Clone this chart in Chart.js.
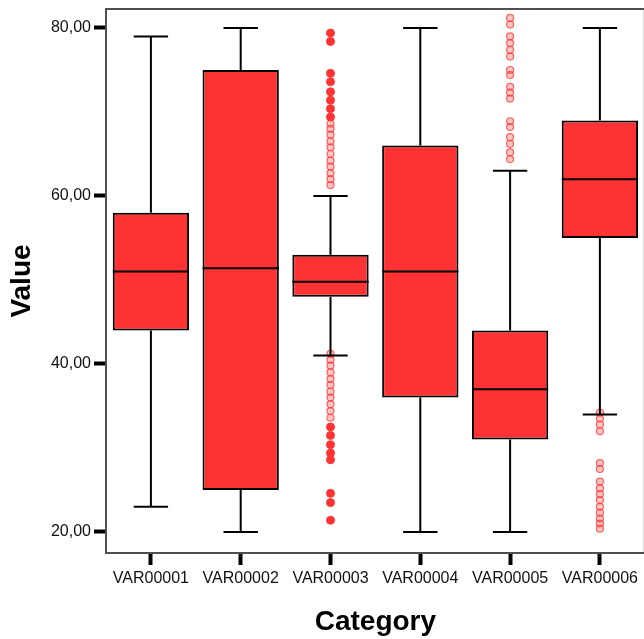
<!DOCTYPE html>
<html>
<head>
<meta charset="utf-8">
<script src="https://cdn.jsdelivr.net/npm/chart.js@4.4.0/dist/chart.umd.min.js"></script>
<style>
  html, body { margin: 0; padding: 0; overflow: hidden; background: #fff; }
  canvas { display: block; }
</style>
</head>
<body>
<canvas id="c" width="650" height="639"></canvas>
<script>
// ---- data ----
const categories = ['VAR00001', 'VAR00002', 'VAR00003', 'VAR00004', 'VAR00005', 'VAR00006'];
const whiskerLow  = [23, 20, 41, 20, 20, 34];
const quartile1   = [44, 25, 48, 36, 31, 55];
const medians     = [51, 51.4, 49.8, 51, 37, 62];
const quartile3   = [58, 75, 53, 66, 44, 69];
const whiskerHigh = [79, 80, 60, 80, 63, 80];

// extreme values (filled markers), VAR00003
const extremes3 = [79.4, 78.4, 74.6, 73.6, 72.4, 71.4, 70.4, 69.4, 32.5, 31.5, 30.4, 29.4, 28.6, 24.6, 23.5, 21.4];
// outliers (open markers)
const outliers3 = [68.6, 68.0, 67.3, 66.5, 65.8, 65.0, 64.2, 63.5, 62.7, 62.0, 61.3,
                   41.2, 40.5, 39.8, 39.0, 38.2, 37.5, 36.7, 36.0, 35.2, 34.4, 33.6];
const outliers5 = [81.2, 80.4, 79.0, 78.2, 77.4, 76.6, 75.0, 74.4, 73.0, 72.3, 71.6, 68.9, 68.2, 67.0, 66.2, 65.2, 64.4];
const outliers6 = [34.2, 33.5, 32.8, 32.0, 28.2, 27.5, 26.0, 25.2, 24.5, 23.8, 23.0, 22.3, 21.6, 21.0, 20.4];

const yTicks = [20, 40, 60, 80];

const BOX_RED = 'rgb(255,51,51)';

const framePlugin = {
  id: 'frame',
  beforeDatasetsDraw(chart) {
    const { ctx, chartArea: a } = chart;
    ctx.save();
    ctx.strokeStyle = '#505050';
    ctx.lineWidth = 2;
    ctx.strokeRect(a.left, a.top, a.right - a.left, a.bottom - a.top);
    ctx.restore();
  }
};

const whiskerPlugin = {
  id: 'whiskers',
  afterDatasetsDraw(chart) {
    const { ctx, scales: { x, y } } = chart;
    const meta = chart.getDatasetMeta(0);
    ctx.save();
    ctx.strokeStyle = '#000';
    ctx.lineWidth = 2;
    categories.forEach((c, i) => {
      const bar = meta.data[i];
      const cx = x.getPixelForValue(i);
      const half = bar.width / 2;
      const cap = bar.width * 0.225;
      const pHi = y.getPixelForValue(whiskerHigh[i]);
      const pLo = y.getPixelForValue(whiskerLow[i]);
      const pQ3 = y.getPixelForValue(quartile3[i]);
      const pQ1 = y.getPixelForValue(quartile1[i]);
      const pMed = y.getPixelForValue(medians[i]);
      ctx.beginPath();
      ctx.moveTo(cx, pQ3); ctx.lineTo(cx, pHi);
      ctx.moveTo(cx - cap, pHi); ctx.lineTo(cx + cap, pHi);
      ctx.moveTo(cx, pQ1); ctx.lineTo(cx, pLo);
      ctx.moveTo(cx - cap, pLo); ctx.lineTo(cx + cap, pLo);
      ctx.moveTo(cx - half, pMed); ctx.lineTo(cx + half, pMed);
      ctx.stroke();
    });
    ctx.restore();
  }
};

const pts = (cat, arr) => arr.map(v => ({ x: cat, y: v }));

new Chart(document.getElementById('c'), {
  type: 'bar',
  data: {
    labels: categories,
    datasets: [
      {
        type: 'bar',
        data: categories.map((c, i) => [quartile1[i], quartile3[i]]),
        backgroundColor: BOX_RED,
        borderColor: '#000',
        borderWidth: 2,
        borderSkipped: false,
        categoryPercentage: 1,
        barPercentage: 0.85,
        order: 2
      },
      {
        type: 'line',
        showLine: false,
        data: pts(categories[2], extremes3),
        pointStyle: 'circle',
        pointRadius: 4,
        pointBackgroundColor: BOX_RED,
        pointBorderColor: BOX_RED,
        pointBorderWidth: 1,
        order: 1
      },
      {
        type: 'line',
        showLine: false,
        data: [].concat(pts(categories[2], outliers3), pts(categories[4], outliers5), pts(categories[5], outliers6)),
        pointStyle: 'circle',
        pointRadius: 3.5,
        pointBackgroundColor: 'rgba(255,90,90,0.35)',
        pointBorderColor: 'rgba(255,51,51,0.75)',
        pointBorderWidth: 1.2,
        order: 1
      }
    ]
  },
  options: {
    responsive: false,
    animation: false,
    devicePixelRatio: 1,
    layout: { padding: { top: 9, right: 1, left: 0, bottom: 0 } },
    plugins: { legend: { display: false }, tooltip: { enabled: false } },
    scales: {
      x: {
        type: 'category',
        offset: true,
        afterFit: s => { s.height = 86; s.paddingLeft = 0; s.paddingRight = 0; },
        grid: { offset: false, drawOnChartArea: false, drawTicks: true, tickLength: 12, tickWidth: 4, tickColor: '#000' },
        border: { display: false },
        ticks: { color: '#111', padding: 4, font: { family: 'Liberation Sans, Arial, sans-serif', size: 16 }, maxRotation: 0, autoSkip: false },
        title: { display: true, text: 'Category', color: '#000', padding: { top: 0, bottom: 0 },
                 font: { family: 'Liberation Sans, Arial, sans-serif', size: 28, weight: 'bold' } }
      },
      y: {
        type: 'linear',
        min: 17.5,
        max: 82.26,
        afterFit: s => { s.width = 106; s.paddingTop = 0; s.paddingBottom = 0; },
        afterBuildTicks: s => { s.ticks = yTicks.map(v => ({ value: v })); },
        grid: { drawOnChartArea: false, drawTicks: true, tickLength: 12, tickWidth: 4, tickColor: '#000' },
        border: { display: false },
        ticks: { color: '#111', padding: 3, font: { family: 'Liberation Sans, Arial, sans-serif', size: 16 },
                 callback: v => v.toFixed(2).replace('.', ',') },
        title: { display: true, text: 'Value', color: '#000', padding: { top: 5, bottom: 0 },
                 font: { family: 'Liberation Sans, Arial, sans-serif', size: 28, weight: 'bold' } }
      }
    }
  },
  plugins: [framePlugin, whiskerPlugin]
});
</script>
</body>
</html>
